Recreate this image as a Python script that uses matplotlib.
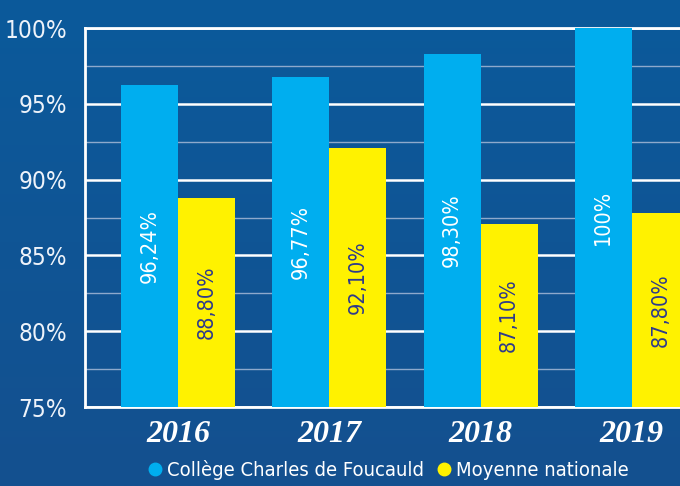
import matplotlib.pyplot as plt
from matplotlib.lines import Line2D
from matplotlib.colors import LinearSegmentedColormap
import numpy as np

years = ['2016', '2017', '2018', '2019']
college = [96.24, 96.77, 98.30, 100.0]
national = [88.80, 92.10, 87.10, 87.80]
college_labels = ['96,24%', '96,77%', '98,30%', '100%']
national_labels = ['88,80%', '92,10%', '87,10%', '87,80%']
series_names = ['Collège Charles de Foucauld', 'Moyenne nationale']

BG = '#0f5596'
BLUE = '#00aeef'
YELLOW = '#fff200'
NAVY = '#2e3a8c'
NARROW = dict(family='DejaVu Sans', stretch='condensed')

fig = plt.figure(figsize=(6.8, 4.86), dpi=100)
fig.patch.set_facecolor(BG)

# background gradient
bg = fig.add_axes([0, 0, 1, 1], zorder=-10)
grad = np.linspace(0, 1, 256).reshape(-1, 1)
cmap = LinearSegmentedColormap.from_list('bg', ['#0b5a9b', '#14508f'])
bg.imshow(grad, aspect='auto', cmap=cmap, extent=[0, 1, 0, 1])
bg.axis('off')

ax = fig.add_axes([85 / 680, 79 / 486, 640 / 680, 379 / 486])
ax.set_facecolor('none')

x = np.arange(len(years))
w = 0.377
ax.bar(x - w / 2, [v - 75 for v in college], w, bottom=75, color=BLUE, zorder=3)
ax.bar(x + w / 2, [v - 75 for v in national], w, bottom=75, color=YELLOW, zorder=3)

for i in range(len(years)):
    ax.text(x[i] - w / 2, (college[i] + 75) / 2, college_labels[i], rotation=90,
            ha='center', va='center', color='white', fontsize=15.5, zorder=4,
            weight='medium', **NARROW)
    ax.text(x[i] + w / 2, (national[i] + 75) / 2, national_labels[i], rotation=90,
            ha='center', va='center', color=NAVY, fontsize=15.5, zorder=4,
            weight='medium', **NARROW)

ax.set_ylim(75, 100)
ax.set_xlim(-0.616, 3.616)
ax.set_yticks([75, 80, 85, 90, 95, 100])
ax.set_yticklabels(['75%', '80%', '85%', '90%', '95%', '100%'], fontsize=17.5,
                   color='#eef3fa', **NARROW)
ax.set_yticks([77.5, 82.5, 87.5, 92.5, 97.5], minor=True)
ax.set_xticks(x)
ax.set_xticklabels(years, family=['Liberation Serif', 'DejaVu Serif'],
                   fontsize=23, fontweight='bold', style='italic', color='white')
ax.tick_params(axis='y', which='both', length=0, pad=13)
ax.tick_params(axis='x', length=0, pad=9)

ax.grid(axis='y', which='major', color='white', lw=1.8, zorder=1)
ax.grid(axis='y', which='minor', color='#8ea9cc', lw=1.0, zorder=1)
for s in ['left', 'top', 'bottom']:
    ax.spines[s].set_color('white')
    ax.spines[s].set_linewidth(2)
    ax.spines[s].set_zorder(2)
ax.spines['right'].set_visible(False)

handles = [Line2D([], [], marker='o', ls='', color=BLUE, markersize=9),
           Line2D([], [], marker='o', ls='', color=YELLOW, markersize=9)]
leg = fig.legend(handles, series_names, loc='center', bbox_to_anchor=(0.569, 0.033),
                 ncol=2, frameon=False, handletextpad=0.1, columnspacing=0.5,
                 handlelength=1.0, prop=dict(size=14.5, **NARROW))
for t in leg.get_texts():
    t.set_color('white')

fig.savefig('out.png', dpi=100, facecolor=BG)
